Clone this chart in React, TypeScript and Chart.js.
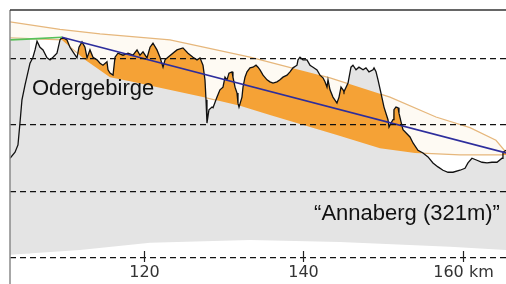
import React, { useEffect, useRef } from 'react';
import { Chart, registerables } from 'chart.js';

Chart.register(...registerables);

// distance along route (km) and elevation (m) of the terrain profile
const profileKm = [
  103.2, 103.83, 104.2, 104.45, 104.7, 105.08, 105.71, 106.08, 106.34, 106.59,
  106.96, 107.34, 107.84, 108.22, 108.59, 109.09, 109.47, 109.72, 110.35, 110.72,
  111.1, 111.6, 111.85, 112.23, 112.6, 112.86, 113.23, 113.61, 114.11, 114.49,
  114.86, 115.36, 115.49, 115.74, 116.12, 116.37, 116.74, 117.37, 118.0, 118.62,
  119.13, 119.5, 119.88, 120.38, 120.76, 121.13, 121.63, 122.01, 122.39, 122.64,
  123.01, 124.14, 124.89, 125.52, 126.15, 126.65, 127.03, 127.4, 127.65, 127.78,
  127.9, 128.15, 128.53, 128.66, 129.16, 129.53, 129.91, 130.16, 130.41, 130.66,
  131.04, 131.16, 131.42, 131.67, 131.79, 131.92, 132.29, 132.42, 132.67, 132.92,
  133.3, 133.67, 134.05, 134.3, 134.55, 134.93, 135.43, 135.8, 136.18, 136.68,
  137.06, 137.43, 137.94, 138.31, 138.69, 139.19, 139.32, 139.57, 139.94, 140.44,
  140.82, 141.2, 141.7, 142.07, 142.45, 142.7, 142.95, 143.08, 143.33, 143.7,
  144.2, 144.46, 144.71, 144.96, 145.08, 145.59, 145.96, 146.21, 146.59, 146.96,
  147.47, 147.84, 148.22, 148.72, 148.85, 149.1, 149.35, 149.72, 150.1, 150.6,
  150.73, 150.98, 151.23, 151.35, 151.6, 151.86, 151.98, 152.23, 152.48,
  153.36, 153.74, 154.36, 154.99, 155.62, 156.24, 156.87, 157.5, 158.13, 158.75,
  159.63, 160.26, 160.63, 161.13, 161.76, 162.39, 163.02, 163.64, 164.27, 164.9, 165.02, 165.4,
];
const profileM = [
  350, 359, 370, 403, 438, 460, 493, 502, 513, 526,
  517, 513, 501, 498, 502, 508, 528, 532, 528, 517,
  510, 501, 517, 525, 517, 501, 513, 502, 498, 493,
  490, 495, 483, 478, 475, 502, 508, 505, 508, 505,
  513, 505, 510, 501, 517, 523, 513, 502, 487, 498,
  502, 513, 516, 508, 502, 498, 501, 490, 468, 438,
  403, 423, 427, 426, 442, 453, 457, 472, 468, 478,
  480, 472, 457, 448, 433, 427, 442, 457, 472, 480,
  486, 487, 490, 487, 483, 475, 468, 465, 463, 465,
  468, 472, 475, 480, 486, 490, 498, 502, 498, 498,
  490, 487, 483, 475, 471, 465, 457, 468, 453, 442,
  433, 442, 457, 453, 450, 463, 487, 490, 483, 487,
  483, 486, 480, 483, 486, 480, 468, 448, 427, 408,
  397, 403, 408, 423, 427, 426, 418, 405, 393,
  382, 373, 362, 358, 352, 343, 337, 332, 329, 329,
  332, 335, 343, 350, 347, 344, 343, 344, 344, 350, 359, 362,
];

// upper (tan) arc of the band
const archKm = [103.2, 109.47, 114.49, 123.26, 133.3, 143.33, 150.85, 156.62, 160.88, 164.14, 165.4];
const archM = [555, 544, 537, 528, 502, 471, 442, 412, 396, 377, 359];

// lower edge of the band
const lowerKm = [103.2, 109.72, 112.6, 115.74, 118.25, 122.01, 127.4, 132.04, 135.8, 144.2, 149.6, 153.99, 159.63, 165.4];
const lowerM = [531, 528, 498, 472, 466, 456, 442, 429, 415, 385, 365, 358, 355, 355];

// lower limit of the grey ground shading
const groundKm = [103.2, 111.98, 120.76, 133.3, 144.58, 158.38, 165.4];
const groundM = [205, 212, 223, 227, 224, 217, 212];

// grey shading left of the first climb
const leftShadeKm = [103.2, 105.71];
const leftShadeM = [530, 530];
const leftShadeBase = 207;

// straight blue trend line and green ridge line
const trendKm = [109.72, 165.4];
const trendM = [532, 358];
const ridgeKm = [103.2, 106.59, 109.72];
const ridgeM = [528, 530, 532];

const xTicks = [120, 140, 160];
const xTickLabels = ['120', '140', '160 km'];
const gridLevels = [200, 300, 400, 500];

const labelOder = { text: 'Odergebirge', km: 105.95, m: 445 };
const labelAnna = { text: '\u201CAnnaberg (321m)\u201D', km: 164.64, m: 257 };

const zip = (xs: number[], ys: number[]) =>
  xs.slice(0, Math.min(xs.length, ys.length)).map((x, i) => ({ x, y: ys[i] }));

export default function App() {
  const ref = useRef<HTMLCanvasElement>(null);

  useEffect(() => {
    const canvas = ref.current;
    if (!canvas) return;

    const bandPlugin = {
      id: 'terrainBand',
      beforeDatasetDraw(chart: any, args: any) {
        if (args.index !== 0) return;
        const { ctx, chartArea: a } = chart;
        const prof = chart.getDatasetMeta(0).data;
        const arch = chart.getDatasetMeta(2).data;
        const low = chart.getDatasetMeta(3).data;
        ctx.save();
        ctx.beginPath();
        ctx.rect(a.left, a.top, a.right - a.left, a.bottom - a.top);
        ctx.clip();
        ctx.beginPath();
        prof.forEach((p: any, i: number) => (i ? ctx.lineTo(p.x, p.y) : ctx.moveTo(p.x, p.y)));
        ctx.lineTo(prof[prof.length - 1].x, a.bottom);
        ctx.lineTo(prof[0].x, a.bottom);
        ctx.closePath();
        ctx.clip();
        ctx.beginPath();
        arch.forEach((p: any, i: number) => (i ? ctx.lineTo(p.x, p.y) : ctx.moveTo(p.x, p.y)));
        for (let i = low.length - 1; i >= 0; i--) ctx.lineTo(low[i].x, low[i].y);
        ctx.closePath();
        ctx.fillStyle = '#f5a236';
        ctx.fill();
        ctx.restore();
      },
    };

    const framePlugin = {
      id: 'frame',
      afterDraw(chart: any) {
        const { ctx, chartArea: a, scales } = chart;
        const x = scales.x;
        const y = scales.y;
        ctx.save();
        ctx.lineWidth = 1.5;
        ctx.strokeStyle = '#8a8a8a';
        ctx.beginPath();
        ctx.moveTo(a.left, a.top);
        ctx.lineTo(a.left, chart.height);
        ctx.stroke();
        ctx.strokeStyle = '#333';
        ctx.beginPath();
        ctx.moveTo(a.left, a.top);
        ctx.lineTo(a.right, a.top);
        ctx.stroke();
        ctx.strokeStyle = '#222';
        ctx.lineWidth = 1.2;
        ctx.fillStyle = '#333';
        ctx.font = '16px "DejaVu Sans", sans-serif';
        ctx.textAlign = 'center';
        ctx.textBaseline = 'middle';
        xTicks.forEach((v, i) => {
          const px = Math.round(x.getPixelForValue(v)) + 0.5;
          ctx.beginPath();
          ctx.moveTo(px, a.bottom - 7);
          ctx.lineTo(px, a.bottom + 4);
          ctx.stroke();
          ctx.fillText(xTickLabels[i], px, a.bottom + 15);
        });
        ctx.fillStyle = '#111';
        ctx.font = '22px "Liberation Sans", Arial, sans-serif';
        ctx.textBaseline = 'alphabetic';
        ctx.textAlign = 'left';
        ctx.fillText(labelOder.text, x.getPixelForValue(labelOder.km), y.getPixelForValue(labelOder.m));
        ctx.textAlign = 'right';
        ctx.fillText(labelAnna.text, x.getPixelForValue(labelAnna.km), y.getPixelForValue(labelAnna.m));
        ctx.restore();
      },
    };

    const tan = '#e6b77c';
    const grey = '#e4e4e4';
    const chart = new Chart(canvas, {
      type: 'line',
      data: {
        datasets: [
          {
            data: zip(profileKm, profileM),
            borderColor: '#111',
            borderWidth: 1.3,
            backgroundColor: grey,
            fill: '+1',
            order: 2,
          },
          {
            data: zip(groundKm, groundM),
            borderWidth: 0,
            borderColor: 'rgba(0,0,0,0)',
            fill: false,
            order: 9,
          },
          {
            data: zip(archKm, archM),
            borderColor: tan,
            borderWidth: 1.2,
            backgroundColor: '#fefaf3',
            fill: '+1',
            order: 6,
          },
          {
            data: zip(lowerKm, lowerM),
            borderColor: tan,
            borderWidth: 1.2,
            fill: false,
            order: 5,
          },
          {
            data: zip(trendKm, trendM),
            borderColor: '#2d2d9c',
            borderWidth: 1.6,
            fill: false,
            order: 0,
          },
          {
            data: zip(ridgeKm, ridgeM),
            borderColor: '#58c058',
            borderWidth: 1.6,
            fill: false,
            order: 0,
          },
          {
            data: zip(leftShadeKm, leftShadeM),
            borderWidth: 0,
            borderColor: 'rgba(0,0,0,0)',
            backgroundColor: grey,
            fill: { value: leftShadeBase },
            order: 3,
          },
        ],
      },
      options: {
        animation: false,
        responsive: false,
        maintainAspectRatio: false,
        layout: { padding: { left: 10, top: 10, right: 0, bottom: 26 } },
        plugins: { legend: { display: false }, tooltip: { enabled: false } },
        elements: { point: { radius: 0 }, line: { tension: 0 } },
        scales: {
          x: {
            type: 'linear',
            display: false,
            min: 103.2,
            max: 165.4,
          },
          y: {
            type: 'linear',
            min: 200,
            max: 573,
            afterBuildTicks: (s: any) => {
              s.ticks = gridLevels.map((v) => ({ value: v }));
            },
            ticks: { display: false },
            grid: { color: '#111', lineWidth: 1.3, drawTicks: false, z: 1 },
            border: { display: false, dash: [6, 4] },
          },
        },
      },
      plugins: [bandPlugin, framePlugin],
    } as any);

    return () => chart.destroy();
  }, []);

  return (
    <div style={{ position: 'fixed', left: 0, top: 0, width: 506, height: 284, background: '#fff' }}>
      <canvas ref={ref} width={506} height={284} style={{ display: 'block' }} />
    </div>
  );
}
